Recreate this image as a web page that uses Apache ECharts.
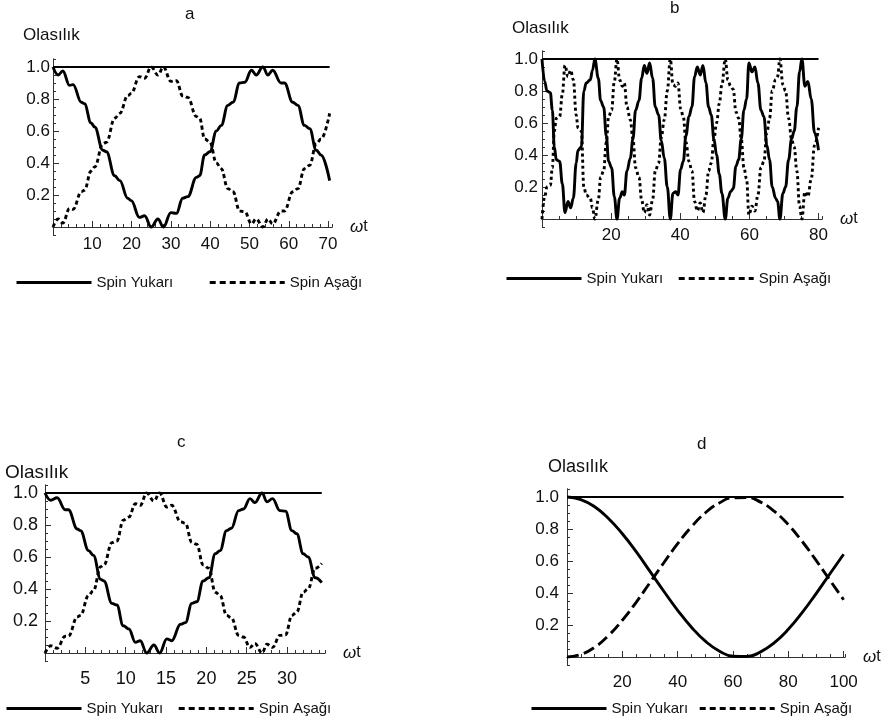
<!DOCTYPE html>
<html>
<head>
<meta charset="utf-8">
<script src="https://cdn.jsdelivr.net/npm/echarts@6/dist/echarts.min.js"></script>
<style>
  html, body { margin: 0; padding: 0; background: #fff; }
  #chart { width: 892px; height: 725px; }
</style>
</head>
<body>
<div id="chart"></div>
<script>
// values as [ωt, olasılık] pairs

// panel a
const upA = [[0,1.0],[1.3,0.95],[2.5,0.975],[4.2,0.885],[5.1,0.89],[7.2,0.78],[8,0.77],[9.7,0.65],[10.6,0.625],[12.7,0.48],[13.6,0.47],[15.7,0.32],[17,0.29],[19,0.18],[19.9,0.165],[22,0.06],[23.3,0.07],[25,0.0],[26.7,0.05],[28.1,0.0],[30,0.09],[31.4,0.085],[33,0.18],[34.3,0.19],[36.5,0.31],[37.3,0.32],[38.6,0.45],[39.9,0.47],[41.6,0.6],[42.8,0.635],[44.5,0.76],[45.8,0.78],[47.5,0.9],[48.8,0.905],[50.5,0.98],[51.7,0.95],[53.4,1.0],[54.7,0.95],[55.9,0.98],[58,0.9],[58.9,0.9],[61,0.78],[62.3,0.76],[64,0.635],[65.3,0.615],[67,0.48],[68.2,0.45],[70.4,0.29]];
const downA = [[0,0.0],[1.3,0.05],[2.5,0.025],[4.2,0.115],[5.1,0.11],[7.2,0.22],[8,0.23],[9.7,0.35],[10.6,0.375],[12.7,0.52],[13.6,0.53],[15.7,0.68],[17,0.71],[19,0.82],[19.9,0.835],[22,0.94],[23.3,0.93],[25,1.0],[26.7,0.95],[28.1,1.0],[30,0.91],[31.4,0.915],[33,0.82],[34.3,0.81],[36.5,0.69],[37.3,0.68],[38.6,0.55],[39.9,0.53],[41.6,0.4],[42.8,0.365],[44.5,0.24],[45.8,0.22],[47.5,0.1],[48.8,0.095],[50.5,0.02],[51.7,0.05],[53.4,0.0],[54.7,0.05],[55.9,0.02],[58,0.1],[58.9,0.1],[61,0.22],[62.3,0.24],[64,0.365],[65.3,0.385],[67,0.52],[68.2,0.55],[70.4,0.71]];
const totalA = [[0,1],[70.4,1]];

// panel b
const upB = [[0,1.0],[0.77,0.86],[1.45,0.8],[2.41,0.79],[2.99,0.68],[3.57,0.45],[4.14,0.37],[5.11,0.36],[5.88,0.22],[6.65,0.04],[7.52,0.11],[8.29,0.07],[9.06,0.13],[9.9,0.35],[10.4,0.43],[11.4,0.45],[12.1,0.8],[12.8,0.85],[13.97,0.87],[14.6,0.93],[15.3,1.0],[16.29,0.88],[16.96,0.74],[17.83,0.7],[18.6,0.52],[19.28,0.36],[20.14,0.32],[20.92,0.14],[21.69,0.0],[22.46,0.13],[23.23,0.17],[23.81,0.15],[24.58,0.3],[25.54,0.38],[26.31,0.5],[27.08,0.68],[28.05,0.74],[28.82,0.88],[29.59,0.96],[30.36,0.91],[31.13,0.975],[32.0,0.88],[32.77,0.7],[33.73,0.65],[34.51,0.49],[35.37,0.38],[36.24,0.2],[37.11,0.0],[37.88,0.16],[38.65,0.17],[39.33,0.15],[40.1,0.31],[40.87,0.36],[41.64,0.52],[42.51,0.64],[43.37,0.7],[44.14,0.89],[44.92,0.95],[45.78,0.9],[46.55,0.96],[47.42,0.85],[48.19,0.7],[48.96,0.65],[49.73,0.5],[50.51,0.4],[51.28,0.28],[52.05,0.16],[53.01,0.0],[53.78,0.13],[54.55,0.17],[55.33,0.19],[56.1,0.33],[56.87,0.37],[57.64,0.5],[58.41,0.68],[59.18,0.75],[59.86,0.975],[60.72,0.92],[61.59,0.95],[62.46,0.85],[63.33,0.68],[64.19,0.64],[65.06,0.46],[65.83,0.37],[66.6,0.2],[67.57,0.13],[68.14,0.11],[68.82,0.0],[69.69,0.16],[70.46,0.2],[71.33,0.37],[72.19,0.5],[72.96,0.55],[73.73,0.7],[74.51,0.92],[75.18,1.0],[76.05,0.83],[76.92,0.86],[77.88,0.75],[78.84,0.54],[80.0,0.43]];
const downB = [[0,0.0],[0.77,0.14],[1.45,0.2],[2.41,0.21],[2.99,0.32],[3.57,0.55],[4.14,0.63],[5.11,0.64],[5.88,0.78],[6.65,0.96],[7.52,0.89],[8.29,0.93],[9.06,0.87],[9.9,0.65],[10.4,0.57],[11.4,0.55],[12.1,0.2],[12.8,0.15],[13.97,0.13],[14.6,0.07],[15.3,0.0],[16.29,0.12],[16.96,0.26],[17.83,0.3],[18.6,0.48],[19.28,0.64],[20.14,0.68],[20.92,0.86],[21.69,1.0],[22.46,0.87],[23.23,0.83],[23.81,0.85],[24.58,0.7],[25.54,0.62],[26.31,0.5],[27.08,0.32],[28.05,0.26],[28.82,0.12],[29.59,0.04],[30.36,0.09],[31.13,0.025],[32.0,0.12],[32.77,0.3],[33.73,0.35],[34.51,0.51],[35.37,0.62],[36.24,0.8],[37.11,1.0],[37.88,0.84],[38.65,0.83],[39.33,0.85],[40.1,0.69],[40.87,0.64],[41.64,0.48],[42.51,0.36],[43.37,0.3],[44.14,0.11],[44.92,0.05],[45.78,0.1],[46.55,0.04],[47.42,0.15],[48.19,0.3],[48.96,0.35],[49.73,0.5],[50.51,0.6],[51.28,0.72],[52.05,0.84],[53.01,1.0],[53.78,0.87],[54.55,0.83],[55.33,0.81],[56.1,0.67],[56.87,0.63],[57.64,0.5],[58.41,0.32],[59.18,0.25],[59.86,0.025],[60.72,0.08],[61.59,0.05],[62.46,0.15],[63.33,0.32],[64.19,0.36],[65.06,0.54],[65.83,0.63],[66.6,0.8],[67.57,0.87],[68.14,0.89],[68.82,1.0],[69.69,0.84],[70.46,0.8],[71.33,0.63],[72.19,0.5],[72.96,0.45],[73.73,0.3],[74.51,0.08],[75.18,0.0],[76.05,0.17],[76.92,0.14],[77.88,0.25],[78.84,0.46],[80.0,0.57]];
const totalB = [[0,1],[80,1]];

// panel c
const upC = [[0,1.0],[0.7,0.955],[1.5,0.97],[2.5,0.895],[2.9,0.895],[4,0.775],[4.4,0.765],[5.4,0.64],[6,0.61],[6.9,0.46],[7.3,0.45],[8.3,0.31],[8.9,0.3],[9.7,0.17],[10.4,0.15],[11.2,0.067],[11.8,0.077],[12.6,0.0],[13.5,0.05],[14.2,0.0],[15.1,0.088],[15.7,0.077],[16.8,0.18],[17.4,0.19],[18.2,0.31],[18.8,0.32],[19.6,0.45],[20.3,0.47],[21.1,0.62],[21.7,0.64],[22.5,0.765],[23.1,0.78],[24,0.89],[24.6,0.9],[25.4,0.965],[26,0.94],[26.9,1.0],[27.5,0.945],[28.2,0.965],[29.1,0.89],[29.8,0.887],[30.6,0.765],[31.2,0.745],[32,0.62],[32.6,0.6],[33.5,0.47],[34.3,0.44]];
const downC = [[0,0.0],[0.7,0.045],[1.5,0.03],[2.5,0.105],[2.9,0.105],[4,0.225],[4.4,0.235],[5.4,0.36],[6,0.39],[6.9,0.54],[7.3,0.55],[8.3,0.69],[8.9,0.7],[9.7,0.83],[10.4,0.85],[11.2,0.933],[11.8,0.923],[12.6,1.0],[13.5,0.95],[14.2,1.0],[15.1,0.912],[15.7,0.923],[16.8,0.82],[17.4,0.81],[18.2,0.69],[18.8,0.68],[19.6,0.55],[20.3,0.53],[21.1,0.38],[21.7,0.36],[22.5,0.235],[23.1,0.22],[24,0.11],[24.6,0.1],[25.4,0.035],[26,0.06],[26.9,0.0],[27.5,0.055],[28.2,0.035],[29.1,0.11],[29.8,0.113],[30.6,0.235],[31.2,0.255],[32,0.38],[32.6,0.4],[33.5,0.53],[34.3,0.56]];
const totalC = [[0,1],[34.3,1]];

// panel d
const upD = [[0,1.0],[5,0.984],[10,0.939],[15,0.866],[20,0.77],[25,0.658],[30,0.535],[35,0.411],[40,0.292],[45,0.186],[50,0.099],[55,0.038],[60,0.005],[65,0.003],[70,0.032],[75,0.09],[80,0.173],[85,0.277],[90,0.395],[95,0.519],[100,0.642]];
const downD = [[0,0.0],[5,0.016],[10,0.061],[15,0.134],[20,0.23],[25,0.342],[30,0.465],[35,0.589],[40,0.708],[45,0.814],[50,0.901],[55,0.962],[60,0.995],[65,0.997],[70,0.968],[75,0.91],[80,0.827],[85,0.723],[90,0.605],[95,0.481],[100,0.358]];
const totalD = [[0,1],[100,1]];

// tick labels
const yTicks = [0.2, 0.4, 0.6, 0.8, 1.0];
const xTicksA = [10, 20, 30, 40, 50, 60, 70];
const xTicksB = [20, 40, 60, 80];
const xTicksC = [5, 10, 15, 20, 25, 30];
const xTicksD = [20, 40, 60, 80, 100];

const FONT = '"Liberation Sans", Arial, sans-serif';
const INK = '#111';
const AXIS = '#333';

const panels = [
  { letter: 'a', up: upA, down: downA, total: totalA, ticks: xTicksA, xMax: 71, minor: 2, dash: [4, 3], smooth: 0.4, mono: 'x',
    grid: { left: 53, top: 59, width: 279, height: 176 }, letterAt: [185, 6], labelAt: [23, 27], legendAt: [15, 275], legendGap: 35,
    fs: 17, labelFs: 17, xMargin: 1, yMargin: 3 },
  { letter: 'b', up: upB, down: downB, total: totalB, ticks: xTicksB, xMax: 81, minor: 5, dash: [3, 3], smooth: 0.4, mono: 'x',
    grid: { left: 542, top: 51, width: 280, height: 176 }, letterAt: [670, 0], labelAt: [512, 20], legendAt: [505, 271], legendGap: 14,
    fs: 17, labelFs: 17, xMargin: 0, yMargin: 4 },
  { letter: 'c', up: upC, down: downC, total: totalC, ticks: xTicksC, xMax: 34.7, minor: 1, dash: [4, 3], smooth: 0.4, mono: 'x',
    grid: { left: 45, top: 485, width: 280, height: 176 }, letterAt: [177, 434], labelAt: [5, 463], legendAt: [5, 701], legendGap: 14,
    fs: 18, labelFs: 19, xMargin: 9, yMargin: 7 },
  { letter: 'd', up: upD, down: downD, total: totalD, ticks: xTicksD, xMax: 100.5, minor: 5, dash: [12, 5], smooth: 0.5, mono: null,
    grid: { left: 567, top: 489, width: 278, height: 176 }, letterAt: [697, 436], labelAt: [548, 458], legendAt: [530, 701], legendGap: 10,
    fs: 17, labelFs: 18, xMargin: 9, yMargin: 8 }
];

const option = {
  animation: false,
  backgroundColor: '#fff',
  title: [], grid: [], xAxis: [], yAxis: [], legend: [], series: []
};

panels.forEach(function (p, i) {
  option.grid.push(Object.assign({ containLabel: false }, p.grid));

  option.title.push({
    text: p.letter, left: p.letterAt[0], top: p.letterAt[1], padding: 0,
    textStyle: { fontSize: 17, fontWeight: 'normal', color: INK, fontFamily: FONT }
  });
  option.title.push({
    text: 'Olasılık', left: p.labelAt[0], top: p.labelAt[1], padding: 0,
    textStyle: { fontSize: p.labelFs, fontWeight: 'normal', color: INK, fontFamily: FONT }
  });

  // x: minor ticks + labels, then major ticks
  option.xAxis.push({
    type: 'value', gridIndex: i, min: 0, max: p.xMax, interval: p.minor, position: 'bottom',
    axisLine: { show: true, onZero: true, lineStyle: { color: AXIS, width: 1 } },
    axisTick: { inside: true, length: 3, lineStyle: { color: AXIS } },
    axisLabel: { customValues: p.ticks, margin: p.xMargin, color: INK, fontSize: p.fs, fontFamily: FONT },
    splitLine: { show: false },
    name: '{w|ω}t', nameLocation: 'end', nameGap: 18,
    nameTextStyle: { color: INK, fontSize: 16, fontFamily: FONT,
      rich: { w: { fontStyle: 'italic', fontSize: 17, color: INK, fontFamily: FONT } } }
  });
  option.xAxis.push({
    type: 'value', gridIndex: i, min: 0, max: p.xMax, position: 'bottom',
    axisLine: { show: true, onZero: true, lineStyle: { color: AXIS, width: 1 } },
    axisTick: { inside: true, length: 6, customValues: p.ticks, lineStyle: { color: AXIS } },
    axisLabel: { show: false },
    splitLine: { show: false }
  });

  // y: minor ticks + labels, then major ticks
  option.yAxis.push({
    type: 'value', gridIndex: i, min: -0.05, max: 1.05, interval: 0.05, position: 'left',
    axisLine: { show: true, onZero: true, lineStyle: { color: AXIS, width: 1 } },
    axisTick: { inside: true, length: 3, lineStyle: { color: AXIS } },
    axisLabel: { customValues: yTicks, formatter: function (v) { return v.toFixed(1); },
      margin: p.yMargin, color: INK, fontSize: p.fs, fontFamily: FONT },
    splitLine: { show: false }
  });
  option.yAxis.push({
    type: 'value', gridIndex: i, min: -0.05, max: 1.05, position: 'left',
    axisLine: { show: true, onZero: true, lineStyle: { color: AXIS, width: 1 } },
    axisTick: { inside: true, length: 6, customValues: yTicks, lineStyle: { color: AXIS } },
    axisLabel: { show: false },
    splitLine: { show: false }
  });

  const common = { type: 'line', xAxisIndex: 2 * i, yAxisIndex: 2 * i, symbol: 'none', showSymbol: false };
  option.series.push(Object.assign({}, common, {
    name: 'Toplam', data: p.total, z: 2,
    lineStyle: { color: '#000', width: 2.2 }, itemStyle: { color: '#000' }
  }));
  option.series.push(Object.assign({}, common, {
    name: 'Spin Yukarı', data: p.up, smooth: p.smooth, smoothMonotone: p.mono, z: 3,
    lineStyle: { color: '#000', width: 2.9 }, itemStyle: { color: '#000' }
  }));
  option.series.push(Object.assign({}, common, {
    name: 'Spin Aşağı', data: p.down, smooth: p.smooth, smoothMonotone: p.mono, z: 3,
    lineStyle: { color: '#000', width: 2.9, type: p.dash }, itemStyle: { color: '#000' }
  }));

  option.legend.push({
    left: p.legendAt[0], top: p.legendAt[1], orient: 'horizontal', padding: 0,
    itemGap: p.legendGap, itemWidth: 75, itemHeight: 14, selectedMode: false,
    itemStyle: { opacity: 0 },
    textStyle: { fontSize: 15, color: INK, fontFamily: FONT },
    data: [
      { name: 'Spin Yukarı', lineStyle: { width: 3, type: 'solid' } },
      { name: 'Spin Aşağı', lineStyle: { width: 3, type: [6, 4] } }
    ]
  });
});

const myChart = echarts.init(document.getElementById('chart'));
myChart.setOption(option);
</script>
</body>
</html>
